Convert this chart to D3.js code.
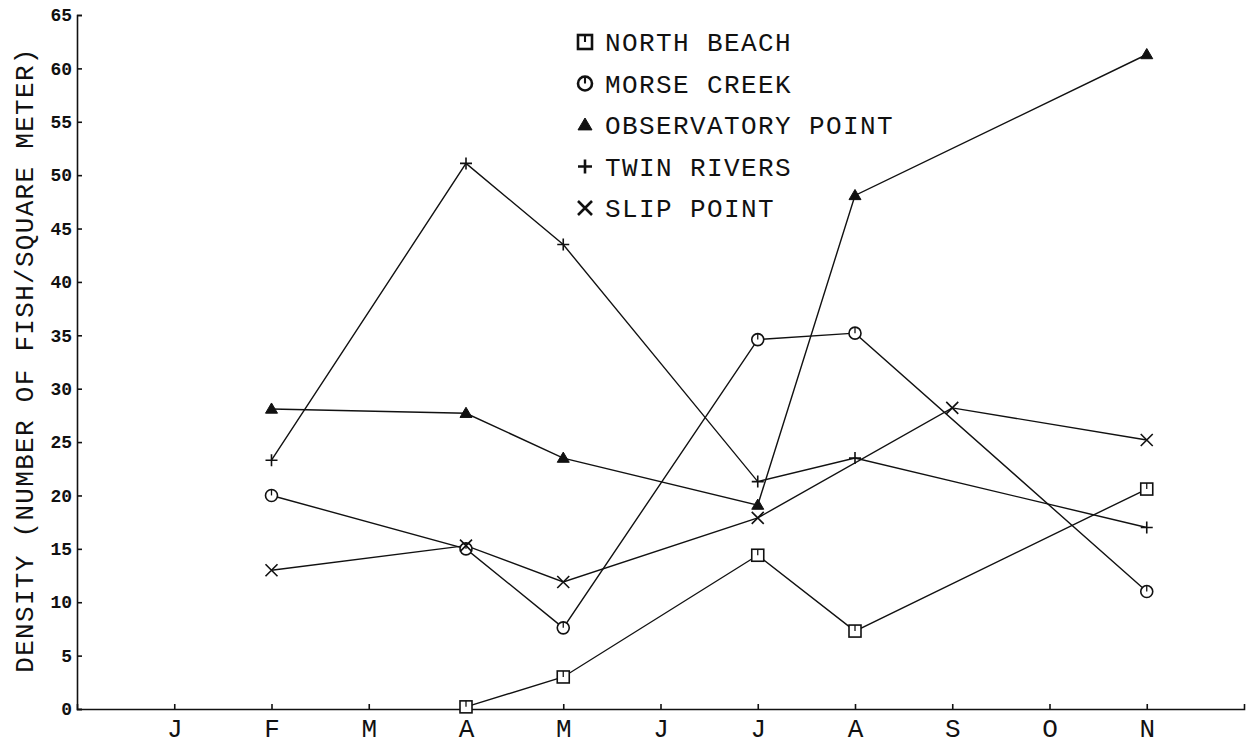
<!DOCTYPE html>
<html>
<head>
<meta charset="utf-8">
<script src="https://cdn.jsdelivr.net/npm/d3@7"></script>
<style>
  body { margin: 0; background: #fff; }
  svg { display: block; font-family: "Liberation Mono", "Courier New", monospace; }
</style>
</head>
<body>
<svg width="1254" height="746"></svg>
<script>
// month labels (index 0..10), the axis runs one slot past N
const months = ["J", "F", "M", "A", "M", "J", "J", "A", "S", "O", "N"];
const yTicks = d3.range(0, 66, 5);

const names = ["NORTH BEACH", "MORSE CREEK", "OBSERVATORY POINT", "TWIN RIVERS", "SLIP POINT"];
const markers = ["square", "circle", "triangle", "plus", "cross"];

// month index + density for each site
const northBeachMonths = [3, 4, 6, 7, 10];
const northBeachValues = [0.2, 3.0, 14.4, 7.3, 20.6];

const morseCreekMonths = [1, 3, 4, 6, 7, 10];
const morseCreekValues = [20.0, 15.0, 7.6, 34.6, 35.2, 11.0];

const observatoryMonths = [1, 3, 4, 6, 7, 10];
const observatoryValues = [28.1, 27.7, 23.5, 19.1, 48.1, 61.3];

const twinRiversMonths = [1, 3, 4, 6, 7, 10];
const twinRiversValues = [23.3, 51.1, 43.5, 21.3, 23.5, 17.0];

const slipPointMonths = [1, 3, 4, 6, 8, 10];
const slipPointValues = [13.0, 15.3, 11.9, 17.9, 28.2, 25.2];

const series = [
    [northBeachMonths, northBeachValues],
    [morseCreekMonths, morseCreekValues],
    [observatoryMonths, observatoryValues],
    [twinRiversMonths, twinRiversValues],
    [slipPointMonths, slipPointValues]
].map(function (s, i) {
    return {
        name: names[i],
        marker: markers[i],
        points: s[0].map(function (m, j) { return { m: m, v: s[1][j] }; })
    };
});

const svg = d3.select("svg");

const x = d3.scaleLinear().domain([-1, 11]).range([77, 1244]);
const y = d3.scaleLinear().domain([0, 65]).range([709, 15]);

// axes
const xAxis = svg.append("g")
    .attr("transform", "translate(0," + y(0) + ")")
    .call(d3.axisBottom(x)
        .tickValues(d3.range(0, months.length))
        .tickFormat(function (i) { return months[i]; })
        .tickSizeInner(-5)
        .tickSizeOuter(-5)
        .tickPadding(10));

const yAxis = svg.append("g")
    .attr("transform", "translate(" + x(-1) + ",0)")
    .call(d3.axisLeft(y)
        .tickValues(yTicks)
        .tickSizeInner(-5)
        .tickSizeOuter(-5)
        .tickPadding(5));

svg.selectAll(".domain, .tick line")
    .attr("stroke", "#111")
    .attr("stroke-width", 1.6);

xAxis.selectAll("text")
    .attr("font-size", 26)
    .attr("fill", "#111")
    .attr("font-family", "Liberation Mono");

yAxis.selectAll("text")
    .attr("font-size", 18)
    .attr("font-weight", "bold")
    .attr("fill", "#111")
    .attr("font-family", "Liberation Mono");

// y title
svg.append("text")
    .attr("transform", "translate(33,360) rotate(-90)")
    .attr("text-anchor", "middle")
    .attr("font-size", 26)
    .attr("letter-spacing", 1.3)
    .attr("fill", "#111")
    .text("DENSITY (NUMBER OF FISH/SQUARE METER)");

// lines
const line = d3.line()
    .x(function (d) { return x(d.m); })
    .y(function (d) { return y(d.v); });

svg.append("g")
    .selectAll("path")
    .data(series)
    .join("path")
    .attr("d", function (d) { return line(d.points); })
    .attr("fill", "none")
    .attr("stroke", "#111")
    .attr("stroke-width", 1.4);

function drawMarker(g, type, r, sw) {
    if (type === "square") {
        g.append("rect")
            .attr("x", -r).attr("y", -r).attr("width", 2 * r).attr("height", 2 * r)
            .attr("fill", "#fff").attr("stroke", "#111").attr("stroke-width", sw);
        g.append("path").attr("d", "M0," + (-r) + "V0").attr("stroke", "#111").attr("stroke-width", sw * 0.8);
    } else if (type === "circle") {
        g.append("circle").attr("r", r)
            .attr("fill", "#fff").attr("stroke", "#111").attr("stroke-width", sw);
        g.append("path").attr("d", "M0," + (-r) + "V0").attr("stroke", "#111").attr("stroke-width", sw * 0.8);
    } else if (type === "triangle") {
        g.append("path")
            .attr("d", "M0," + (-r) + "L" + r + "," + (r * 0.7) + "L" + (-r) + "," + (r * 0.7) + "Z")
            .attr("fill", "#111").attr("stroke", "#111").attr("stroke-width", 1);
    } else if (type === "plus") {
        g.append("path")
            .attr("d", "M" + (-r) + ",0H" + r + "M0," + (-r) + "V" + r)
            .attr("stroke", "#111").attr("stroke-width", sw);
    } else {
        g.append("path")
            .attr("d", "M" + (-r) + "," + (-r) + "L" + r + "," + r + "M" + r + "," + (-r) + "L" + (-r) + "," + r)
            .attr("stroke", "#111").attr("stroke-width", sw);
    }
}

// markers on the data
series.forEach(function (s) {
    svg.append("g")
        .selectAll("g")
        .data(s.points)
        .join("g")
        .attr("transform", function (d) { return "translate(" + x(d.m) + "," + y(d.v) + ")"; })
        .each(function () { drawMarker(d3.select(this), s.marker, 6, 1.6); });
});

// legend
const legend = svg.append("g")
    .selectAll("g")
    .data(series)
    .join("g")
    .attr("transform", function (d, i) { return "translate(585," + (42 + i * 41.5) + ")"; });

legend.each(function (d) { drawMarker(d3.select(this), d.marker, 7, 2.6); });

legend.append("text")
    .attr("x", 20)
    .attr("y", 9)
    .attr("font-size", 26)
    .attr("letter-spacing", 1.4)
    .attr("fill", "#111")
    .text(function (d) { return d.name; });
</script>
</body>
</html>
